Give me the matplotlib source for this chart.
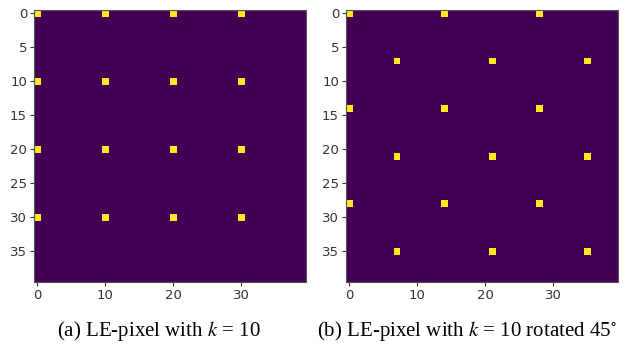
import numpy as np
import matplotlib.pyplot as plt

plt.rcParams["mathtext.fontset"] = "stix"

size = 40
# (row, col) of the lit pixels
grid_rows = [0, 10, 20, 30]
grid_cols = [0, 10, 20, 30]
rot_rows_a = [0, 14, 28]
rot_cols_a = [0, 14, 28]
rot_rows_b = [7, 21, 35]
rot_cols_b = [7, 21, 35]

x_ticks = [0, 10, 20, 30]
y_ticks = [0, 5, 10, 15, 20, 25, 30, 35]

captions = ["(a) LE-pixel with $k$ = 10",
            "(b) LE-pixel with $k$ = 10 rotated 45$^{\\circ}$"]

img_a = np.zeros((size, size))
for r in grid_rows:
    for c in grid_cols:
        img_a[r, c] = 1

img_b = np.zeros((size, size))
for r in rot_rows_a:
    for c in rot_cols_a:
        img_b[r, c] = 1
for r in rot_rows_b:
    for c in rot_cols_b:
        img_b[r, c] = 1

fig = plt.figure(figsize=(6.29, 3.45), dpi=100)
W, H = 629, 345
ax1 = fig.add_axes([34 / W, 1 - 282 / H, 272 / W, 272 / H])
ax2 = fig.add_axes([346 / W, 1 - 282 / H, 272 / W, 272 / H])

for ax, img in [(ax1, img_a), (ax2, img_b)]:
    ax.imshow(img, cmap="viridis", interpolation="nearest")
    ax.set_xticks(x_ticks)
    ax.set_yticks(y_ticks)
    ax.tick_params(labelsize=9.5, length=3, pad=2, colors="#333333")
    for s in ax.spines.values():
        s.set_color("#555555")

fig.text(57 / W, 1 - 331 / H, captions[0], ha="left", va="center",
         fontsize=15, family="Liberation Serif")
fig.text(317 / W, 1 - 331 / H, captions[1], ha="left", va="center",
         fontsize=15, family="Liberation Serif")

fig.savefig("out.png", dpi=100)
